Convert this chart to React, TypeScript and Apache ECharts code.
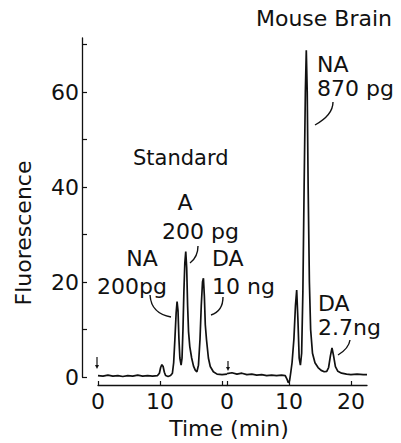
import React, { useEffect, useRef } from 'react';
import * as echarts from 'echarts';

// Standard chromatogram: [time (min), fluorescence]
const standardTrace: [number, number][] = [
  [0, 0.3], [0.8, 0.2], [1.6, 0.4], [2.4, 0.2], [3.2, 0.3], [4, 0.1], [4.8, 0.3], [5.6, 0.2],
  [6.4, 0.4], [7.2, 0.2], [8, 0.3], [8.8, 0.2], [9.6, 0.3], [9.9, 0.8], [10.1, 2.0], [10.3, 2.6],
  [10.5, 2.2], [10.7, 1.0], [10.9, 0.3], [11.3, 0.1], [11.7, 0.3], [12.0, 0.8], [12.2, 3],
  [12.4, 8], [12.6, 13.5], [12.75, 15.9], [12.9, 14], [13.05, 8], [13.2, 4], [13.4, 2.5],
  [13.55, 4], [13.7, 10], [13.85, 18], [14.0, 24], [14.15, 26.4], [14.3, 23], [14.45, 15],
  [14.6, 9.5], [14.8, 6.4], [15.1, 4], [15.4, 2.3], [15.7, 1.4], [15.95, 1.1], [16.2, 2.5],
  [16.45, 8], [16.65, 15], [16.85, 20], [17.0, 20.8], [17.15, 17], [17.3, 11], [17.5, 7.8],
  [17.8, 4], [18.1, 2.2], [18.6, 1.1], [19.2, 0.6], [20, 0.5], [20.8, 0.6],
];

// Mouse brain chromatogram: [time (min), fluorescence]
const brainTrace: [number, number][] = [
  [0, 0.7], [0.8, 0.9], [1.6, 0.6], [2.4, 0.8], [3.2, 0.5], [4, 0.6], [4.8, 0.4], [5.6, 0.5],
  [6.4, 0.3], [7.2, 0.4], [8, 0.3], [8.8, 0.4], [9.4, 0.3], [9.7, -0.5], [9.9, -1.2], [10.1, -0.8],
  [10.3, 1.0], [10.5, 3], [10.8, 8], [11.05, 15], [11.25, 18.3], [11.45, 12], [11.65, 4],
  [11.85, 2.5], [12.05, 5], [12.25, 18], [12.45, 40], [12.65, 60], [12.8, 68.8], [12.95, 60],
  [13.1, 40], [13.3, 20], [13.5, 10], [13.8, 5], [14.2, 3], [14.7, 2], [15.2, 1.4], [15.7, 1.1],
  [16.1, 1.2], [16.4, 2], [16.7, 4.5], [16.95, 6.1], [17.2, 4.5], [17.5, 2.2], [17.9, 1.2],
  [18.5, 0.8], [19.3, 0.6], [20, 0.5], [21, 0.6], [22, 0.5], [22.6, 0.5],
];

const yTicks = [0, 10, 20, 30, 40, 50, 60, 70];
const yLabels = [0, 20, 40, 60];
const stdXTicks = [0, 10, 20];
const stdXLabels = [0, 10];
const brainXTicks = [0, 10, 20];
const brainXLabels = [0, 10, 20];

const FONT = 'DejaVu Sans';

export default function App() {
  const ref = useRef<HTMLDivElement>(null);
  useEffect(() => {
    const chart = echarts.init(ref.current!, null, { renderer: 'svg' });
    const black = '#111';
    const xAxisBase = (gridIndex: number, max: number, ticks: number[], labels: number[]) => ({
      gridIndex,
      type: 'value',
      min: 0,
      max,
      offset: 8,
      axisLine: { show: true, onZero: false, lineStyle: { color: black, width: 1.3 } },
      axisTick: { show: true, inside: true, length: 4, customValues: ticks, lineStyle: { color: black, width: 1.2 } },
      axisLabel: { customValues: labels, color: black, fontSize: 22, fontFamily: FONT, margin: 5 },
      splitLine: { show: false },
    });
    const text = (t: string, x: number, y: number, size = 22, align = 'left') => ({
      type: 'text',
      x,
      y,
      style: { text: t, fill: black, fontSize: size, fontFamily: FONT, align, verticalAlign: 'middle' },
    });
    const curve = (x1: number, y1: number, c1x: number, c1y: number, c2x: number, c2y: number, x2: number, y2: number) => ({
      type: 'bezierCurve',
      shape: { x1, y1, cpx1: c1x, cpy1: c1y, cpx2: c2x, cpy2: c2y, x2, y2 },
      style: { stroke: black, lineWidth: 1.4, fill: 'none' },
    });
    const arrow = (x: number, y1: number, y2: number) => ([
      { type: 'line', shape: { x1: x, y1, x2: x, y2: y2 - 3 }, style: { stroke: black, lineWidth: 1.2 } },
      { type: 'polygon', shape: { points: [[x - 2, y2 - 4], [x + 2, y2 - 4], [x, y2]] }, style: { fill: black } },
    ]);
    chart.setOption({
      animation: false,
      backgroundColor: '#fff',
      grid: [
        { left: 98, top: 38, width: 129, height: 339 },
        { left: 227, top: 38, width: 140, height: 339 },
      ],
      xAxis: [
        xAxisBase(0, 20.8, stdXTicks, stdXLabels),
        xAxisBase(1, 22.6, brainXTicks, brainXLabels),
      ],
      yAxis: [
        {
          gridIndex: 0,
          type: 'value',
          min: 0,
          max: 71.4,
          offset: 16,
          axisLine: { show: true, onZero: false, lineStyle: { color: black, width: 1.3 } },
          axisTick: { show: true, inside: true, length: 5, customValues: yTicks, lineStyle: { color: black, width: 1.2 } },
          axisLabel: { customValues: yLabels, color: black, fontSize: 22, fontFamily: FONT, margin: 3 },
          splitLine: { show: false },
        },
        { gridIndex: 1, type: 'value', min: 0, max: 71.4, show: false, splitLine: { show: false } },
      ],
      series: [
        {
          type: 'line', xAxisIndex: 0, yAxisIndex: 0, data: standardTrace, showSymbol: false, clip: false,
          lineStyle: { color: black, width: 1.7 },
        },
        {
          type: 'line', xAxisIndex: 1, yAxisIndex: 1, data: brainTrace, showSymbol: false, clip: false,
          lineStyle: { color: black, width: 1.7 },
        },
      ],
      graphic: [
        text('Mouse Brain', 324, 18, 22, 'center'),
        text('NA', 317, 64),
        text('870 pg', 317, 88),
        text('Standard', 133, 158, 21),
        text('A', 185, 202, 22, 'center'),
        text('200 pg', 162, 231),
        text('NA', 142, 258, 22, 'center'),
        text('200pg', 97, 286),
        text('DA', 212, 258),
        text('10 ng', 212, 286),
        text('DA', 318, 303),
        text('2.7ng', 318, 327),
        text('Time (min)', 229, 428, 22, 'center'),
        {
          type: 'text', x: 23, y: 233, rotation: Math.PI / 2,
          style: { text: 'Fluorescence', fill: black, fontSize: 22, fontFamily: FONT, align: 'center', verticalAlign: 'middle' },
        },
        curve(150, 295, 151, 310, 160, 315, 171, 317),
        curve(198, 246, 198, 254, 194, 260, 190, 263),
        curve(223, 297, 223, 308, 217, 313, 211, 315),
        curve(333, 102, 333, 112, 324, 120, 315, 125),
        curve(350, 340, 349, 347, 343, 352, 338, 355),
        ...arrow(97, 357, 369),
        ...arrow(228, 361, 371),
      ],
    });
    return () => chart.dispose();
  }, []);
  return <div ref={ref} style={{ position: 'fixed', left: 0, top: 0, width: 401, height: 443 }} />;
}
